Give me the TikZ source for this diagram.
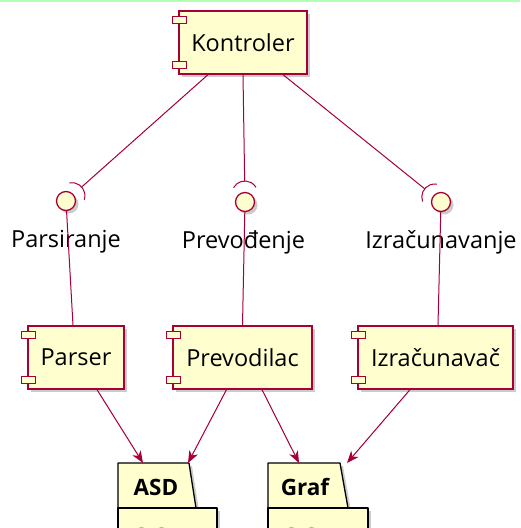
\documentclass[tikz,border=0pt]{standalone}
\usepackage{fontspec}
\setmainfont{Open Sans}
\usetikzlibrary{calc,arrows.meta,shadows}
\definecolor{umlred}{HTML}{A80036}
\definecolor{umlfill}{HTML}{FEFECE}
\definecolor{topgreen}{HTML}{B4FFB4}
\begin{document}
\begin{tikzpicture}[x=1pt,y=-1pt,
  shad/.style={drop shadow={shadow xshift=3pt,shadow yshift=-3pt,fill=black!45,opacity=0.45}},
  comp/.style={draw=umlred, fill=umlfill, line width=1.3pt, minimum height=63pt, inner sep=0pt,
    font=\fontsize{23.5}{27}\selectfont, shad},
  icon/.style={draw=umlred, fill=umlfill, line width=1.1pt},
  iface/.style={circle, draw=umlred, fill=umlfill, line width=1.3pt, minimum size=19pt, inner sep=0pt, shad},
  lbl/.style={font=\fontsize{23.5}{27}\selectfont, inner sep=0pt},
  conn/.style={draw=umlred, line width=1pt},
  arr/.style={conn, -{Stealth[length=12pt,width=9.5pt,inset=3.5pt]}, fill=umlred},
  pkg/.style={draw=black, fill=umlfill, line width=1.3pt, line join=round, shad},
  pkgtxt/.style={font=\fontsize{22.5}{26}\selectfont\bfseries, inner sep=0pt}
]
\useasboundingbox (0,0) rectangle (520,528);
\fill[topgreen] (0,0) rectangle (520,1.5);

% components
\node[comp, minimum width=128pt] (k) at (243,42.5) {Kontroler};
\node[comp, minimum width=96pt] (p) at (76,357.5) {Parser};
\node[comp, minimum width=139pt] (v) at (242.5,357.5) {Prevodilac};
\node[comp, minimum width=155pt] (z) at (435.5,357.5) {Izračunavač};
\foreach \n in {k,p,v,z}{
  \draw[icon] ($(\n.north west)+(-6,6)$) rectangle ++(14,7);
  \draw[icon] ($(\n.south west)+(-6,-13)$) rectangle ++(14,7);
}

% labels
\node[lbl] (l1) at (66,242) {Parsiranje};
\node[lbl] (l2) at (243.5,242) {Prevođenje};
\node[lbl] (l3) at (441,242) {Izračunavanje};

% interfaces
\node[iface] (i1) at (66,201) {};
\node[iface] (i2) at (245,202) {};
\node[iface] (i3) at (441,202) {};

% attach points
\coordinate (k1) at ($(k.south)+(-35,0)$);
\coordinate (k2) at (k.south);
\coordinate (k3) at ($(k.south)+(40,0)$);
\coordinate (p1) at ($(p.north)+(-3,0)$);
\coordinate (v1) at ($(v.north)+(0,0)$);
\coordinate (z1) at ($(z.north)+(2.5,0)$);

% interface to component
\draw[conn] (i1) -- (p1);
\draw[conn] (i2) -- (v1);
\draw[conn] (i3) -- (z1);

% sockets
\coordinate (s1) at ($(i1)+(-41.8:21)$);
\coordinate (s2) at ($(i2)+(-90.9:21)$);
\coordinate (s3) at ($(i3)+(-141:21)$);
\draw[conn] ($(i1)+(-41.8:8)$) ++(-101.8:13) arc[start angle=-101.8, end angle=18.2, radius=13];
\draw[conn] ($(i2)+(-90.9:8)$) ++(-150.9:13) arc[start angle=-150.9, end angle=-30.9, radius=13];
\draw[conn] ($(i3)+(-141:8)$) ++(-201:13) arc[start angle=-201, end angle=-81, radius=13];
\draw[conn] (s1) -- (k1);
\draw[conn] (s2) -- (k2);
\draw[conn] (s3) -- (k3);

% packages
\begin{scope}
\clip (0,0) rectangle (520,528);
\path[pkg] (118,463) -- (189,463) -- (196,508) -- (118,508) -- cycle;
\path[pkg] (118,508) rectangle (217,545);
\path[pkg] (268,463) -- (340,463) -- (348,508) -- (268,508) -- cycle;
\path[pkg] (268,508) rectangle (368,545);
\draw[black!30, line width=1.2pt] (141.5,532) ellipse (5 and 4.5);
\draw[black!30, line width=1.2pt] (161.5,532) ellipse (5 and 4.5);
\draw[black!30, line width=1.2pt] (291.5,532) ellipse (5 and 4.5);
\draw[black!30, line width=1.2pt] (311.5,532) ellipse (5 and 4.5);
\end{scope}
\node[pkgtxt] (asd) at (156,487) {ASD};
\node[pkgtxt] (graf) at (305,487) {Graf};

% dependency arrows
\coordinate (p2) at ($(p.south)+(21,0)$);
\coordinate (v2) at ($(v.south)+(-16,0)$);
\coordinate (v3) at ($(v.south)+(19.5,0)$);
\coordinate (z2) at ($(z.south)+(-25.5,0)$);
\coordinate (a1) at (143,463);
\coordinate (a2) at (188,463);
\coordinate (g1) at (299,463);
\coordinate (g2) at (347,463);
\draw[arr] (p2) -- (a1);
\draw[arr] (v2) -- (a2);
\draw[arr] (v3) -- (g1);
\draw[arr] (z2) -- (g2);
\end{tikzpicture}
\end{document}
